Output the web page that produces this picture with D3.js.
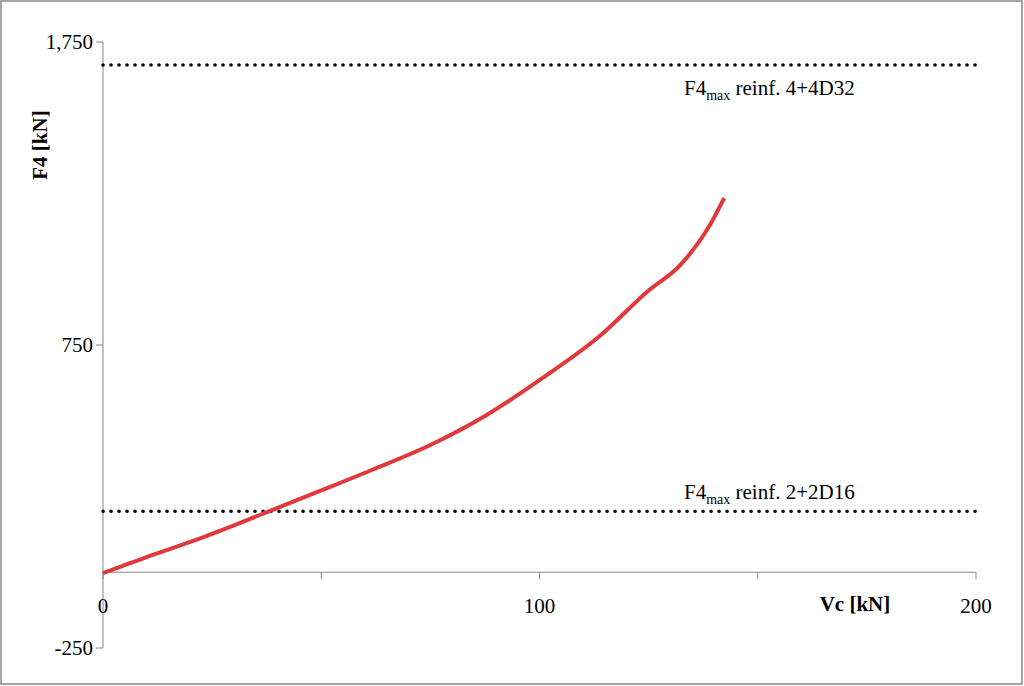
<!DOCTYPE html>
<html><head><meta charset="utf-8">
<script src="https://cdn.jsdelivr.net/npm/d3@7"></script>
<style>body{margin:0;background:#fff;} text{font-family:"Liberation Serif","Times New Roman",serif;}</style>
</head><body>
<svg id="chart" width="1024" height="686"></svg>
<script>
// curve
const vc = [0, 10, 20, 30, 38, 50, 62, 75, 88, 100, 114, 125, 132, 139, 142.3];
const f4 = [-3, 50, 100, 155, 201, 270, 340, 420, 520, 634, 782, 930, 1010, 1145, 1235];
const limits = [
  {value: 1674, label: "reinf. 4+4D32", dy: 30},
  {value: 201, label: "reinf. 2+2D16", dy: -12}
];
const yTicks = [-250, 750, 1750];
const xTicks = [0, 100, 200];

const svg = d3.select("#chart");
svg.append("rect").attr("x", 1).attr("y", 1).attr("width", 1021).attr("height", 683)
  .attr("fill", "none").attr("stroke", "#888").attr("stroke-width", 1.5);

const x = d3.scaleLinear().domain([0, 200]).range([103, 976]);
const y = d3.scaleLinear().domain([-250, 1750]).range([648, 42]);

// y axis
svg.append("line").attr("x1", x(0)).attr("x2", x(0)).attr("y1", y(-250)).attr("y2", y(1750)).attr("stroke", "#888");
yTicks.forEach(t => {
  svg.append("line").attr("x1", x(0) - 7).attr("x2", x(0)).attr("y1", y(t)).attr("y2", y(t)).attr("stroke", "#888");
  svg.append("text").attr("x", x(0) - 10).attr("y", y(t) + 7).attr("text-anchor", "end")
    .attr("font-size", 21).text(d3.format(",")(t).replace("\u2212", "-"));
});
// x axis at y=0
svg.append("line").attr("x1", x(0)).attr("x2", x(200)).attr("y1", y(0)).attr("y2", y(0)).attr("stroke", "#888");
d3.range(0, 201, 50).forEach(t => {
  svg.append("line").attr("x1", x(t)).attr("x2", x(t)).attr("y1", y(0)).attr("y2", y(0) + 7).attr("stroke", "#888");
});
xTicks.forEach(t => {
  svg.append("text").attr("x", x(t)).attr("y", y(0) + 41).attr("text-anchor", "middle")
    .attr("font-size", 21).text(t);
});

// limit lines
limits.forEach(l => {
  svg.append("line").attr("x1", x(0)).attr("x2", x(200)).attr("y1", y(l.value)).attr("y2", y(l.value))
    .attr("stroke", "#000").attr("stroke-width", 3.5).attr("stroke-dasharray", "0.1 7.9").attr("stroke-linecap", "round");
  const t = svg.append("text").attr("x", 684).attr("y", y(l.value) + l.dy).attr("font-size", 21);
  t.append("tspan").text("F4");
  t.append("tspan").attr("font-size", 14).attr("dy", 5).text("max");
  t.append("tspan").attr("dy", -5).text(" " + l.label);
});

// curve
svg.append("path").datum(vc.map((d, i) => [d, f4[i]]))
  .attr("d", d3.line().x(d => x(d[0])).y(d => y(d[1])).curve(d3.curveMonotoneX))
  .attr("fill", "none").attr("stroke", "#e0393b").attr("stroke-width", 4);

// axis titles
svg.append("text").attr("transform", "translate(47,145) rotate(-90)").attr("text-anchor", "middle")
  .attr("font-size", 21).attr("font-weight", "bold").text("F4 [kN]");
svg.append("text").attr("x", 855).attr("y", 611).attr("text-anchor", "middle")
  .attr("font-size", 21).attr("font-weight", "bold").text("Vc [kN]");
</script>
</body></html>
